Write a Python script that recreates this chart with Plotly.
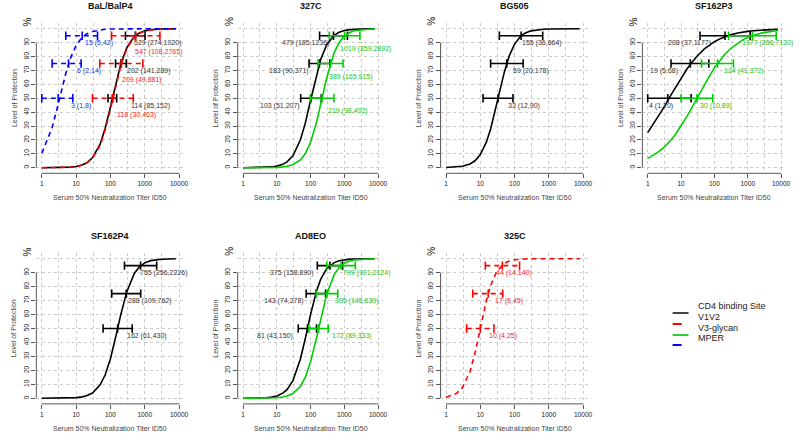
import math
import plotly.graph_objects as go
from plotly.subplots import make_subplots

# titer grid the fitted curves were read at
titer = [1, 2, 3, 5, 7, 10, 15, 20, 30, 50, 70, 100, 150, 200, 300, 500, 700, 1000, 1500, 2000, 3000, 5000, 8000]
levels = [50, 75, 95]

# BaL/BalP4
bal_cd4 = [0.01, 0.04, 0.09, 0.25, 0.47, 0.93, 2.0, 3.4, 7.2, 17.0, 28.2, 43.7, 62.8, 74.6, 86.5, 94.5, 97.0, 98.5, 99.3, 99.6, 99.8, 99.9, 100]
bal_v1v2 = [0.01, 0.04, 0.08, 0.23, 0.44, 0.87, 1.9, 3.2, 6.8, 16.1, 26.9, 42.2, 61.2, 73.3, 85.7, 94.1, 96.8, 98.4, 99.2, 99.6, 99.8, 99.9, 100]
bal_mper = [10.4, 28.9, 45.6, 67.8, 79.4, 88.0, 93.8, 96.2, 98.1, 99.2, 99.6, 99.8, 99.9, 99.9, 100, 100, 100, 100, 100, 100, 100, 100, 100]
bal_cd4_est, bal_cd4_lo, bal_cd4_hi = [114, 202, 529], [85, 141, 274], [152, 289, 1020]
bal_v1v2_est, bal_v1v2_lo, bal_v1v2_hi = [118, 209, 547], [30, 49, 108], [463, 881, 2765]
bal_mper_est, bal_mper_lo, bal_mper_hi = [3, 6, 15], [1, 2, 5], [8, 14, 42]

# 327C
c327_cd4 = [0.01, 0.05, 0.12, 0.31, 0.59, 1.15, 2.45, 4.2, 8.6, 20.1, 32.3, 48.6, 67.2, 78.0, 88.5, 95.3, 97.5, 98.7, 99.4, 99.7, 99.8, 99.9, 100]
c327_v3 = [0, 0.01, 0.03, 0.07, 0.14, 0.27, 0.6, 1.03, 2.2, 5.6, 10.2, 18.3, 32.7, 45.7, 64.6, 82.9, 90.2, 94.8, 97.5, 98.6, 99.3, 99.7, 99.9]
c327_cd4_est, c327_cd4_lo, c327_cd4_hi = [103, 183, 479], [51, 90, 185], [207, 371, 1236]
c327_v3_est, c327_v3_lo, c327_v3_hi = [219, 389, 1019], [98, 165, 359], [492, 915, 2892]

# BG505
bg505_cd4 = [0.13, 0.5, 1.06, 2.75, 5.0, 9.5, 18.4, 27.9, 45.4, 68.6, 80.5, 89.0, 94.6, 96.8, 98.5, 99.4, 99.7, 99.8, 99.9, 99.9, 100, 100, 100]
bg505_cd4_est, bg505_cd4_lo, bg505_cd4_hi = [33, 59, 155], [12, 20, 36], [90, 178, 664]

# SF162P3
sf3_cd4 = [25.3, 36.0, 43.1, 52.4, 58.4, 64.6, 71.0, 75.1, 80.2, 85.5, 88.3, 90.7, 92.9, 94.2, 95.6, 96.9, 97.6, 98.1, 98.6, 98.9, 99.2, 99.4, 99.6]
sf3_v3 = [6.7, 11.0, 14.4, 20.0, 24.5, 30.0, 36.9, 42.2, 50.0, 59.8, 65.8, 71.8, 77.6, 81.3, 85.6, 89.8, 92.0, 93.8, 95.4, 96.3, 97.2, 98.1, 98.7]
sf3_cd4_est, sf3_cd4_lo, sf3_cd4_hi = [4, 19, 208], [1, 5, 37], [20, 68, 1177]
sf3_v3_est, sf3_v3_lo, sf3_v3_hi = [30, 124, 1377], [10, 41, 266], [89, 372, 7130]

# SF162P4
sf4_cd4 = [0, 0.02, 0.05, 0.13, 0.25, 0.49, 1.05, 1.8, 3.8, 9.6, 16.7, 28.4, 46.3, 59.9, 76.4, 89.6, 94.2, 97.0, 98.6, 99.2, 99.6, 99.8, 99.9]
sf4_cd4_est, sf4_cd4_lo, sf4_cd4_hi = [162, 288, 755], [61, 109, 256], [430, 762, 2226]

# AD8EO
ad8_cd4 = [0.02, 0.08, 0.17, 0.45, 0.86, 1.7, 3.7, 6.2, 12.7, 28.2, 43.0, 60.1, 76.8, 85.3, 92.7, 97.2, 98.5, 99.2, 99.7, 99.8, 99.9, 100, 100]
ad8_v3 = [0, 0.02, 0.04, 0.11, 0.21, 0.42, 0.91, 1.6, 3.4, 8.5, 15.1, 26.1, 43.4, 57.1, 74.4, 88.6, 93.7, 96.7, 98.5, 99.1, 99.6, 99.8, 99.9]
ad8_cd4_est, ad8_cd4_lo, ad8_cd4_hi = [81, 143, 375], [43, 74, 158], [150, 278, 890]
ad8_v3_est, ad8_v3_lo, ad8_v3_hi = [172, 305, 799], [89, 145, 301], [333, 639, 2124]

# 325C
c325_v1v2 = [0.84, 3.4, 7.6, 19.2, 32.3, 50.0, 69.8, 80.8, 90.7, 96.6, 98.3, 99.2, 99.7, 99.8, 99.9, 100, 100, 100, 100, 100, 100, 100, 100]
c325_v1v2_est, c325_v1v2_lo, c325_v1v2_hi = [10, 17, 44], [4, 6, 14], [25, 45, 140]

styles = {
    'CD4 binding Site': dict(color='#000000', text='#333333', dash='solid', legend='#444444'),
    'V1V2': dict(color='#FF0000', text='#F02828', dash='5px,4px', legend='#FF0000'),
    'V3-glycan': dict(color='#00CD00', text='#22C022', dash='solid', legend='#33CC33'),
    'MPER': dict(color='#0000FF', text='#2828F0', dash='5px,4px', legend='#0000FF'),
}

# label placement: side of the estimate, drop below the bar (level units), pixel nudges
# (title, [(series, curve, est, lo, hi, side, drop, nudges)])
panels = [
    ('BaL/BalP4', [('CD4 binding Site', bal_cd4, bal_cd4_est, bal_cd4_lo, bal_cd4_hi, 'right', 5.5, [17, 4, -3]),
                   ('V1V2', bal_v1v2, bal_v1v2_est, bal_v1v2_lo, bal_v1v2_hi, 'right', 12, [2, -1, -3]),
                   ('MPER', bal_mper, bal_mper_est, bal_mper_lo, bal_mper_hi, 'right', 5.5, [11, 6, 1])]),
    ('327C', [('CD4 binding Site', c327_cd4, c327_cd4_est, c327_cd4_lo, c327_cd4_hi, 'left', 5.5, [-9, -8, -3]),
              ('V3-glycan', c327_v3, c327_v3_est, c327_v3_lo, c327_v3_hi, 'right', 9.5, [4, -3, -7])]),
    ('BG505', [('CD4 binding Site', bg505_cd4, bg505_cd4_est, bg505_cd4_lo, bg505_cd4_hi, 'right', 5.5, [8, 4, -1])]),
    ('SF162P3', [('CD4 binding Site', sf3_cd4, sf3_cd4_est, sf3_cd4_lo, sf3_cd4_hi, 'left', 5.5, [7, -10, -12]),
                 ('V3-glycan', sf3_v3, sf3_v3_est, sf3_v3_lo, sf3_v3_hi, 'right', 5.5, [1, 4, -12])]),
    ('SF162P4', [('CD4 binding Site', sf4_cd4, sf4_cd4_est, sf4_cd4_lo, sf4_cd4_hi, 'right', 5.5, [7, 0, -3])]),
    ('AD8EO', [('CD4 binding Site', ad8_cd4, ad8_cd4_est, ad8_cd4_lo, ad8_cd4_hi, 'left', 5.5, [-13, -10, -14]),
               ('V3-glycan', ad8_v3, ad8_v3_est, ad8_v3_lo, ad8_v3_hi, 'right', 5.5, [11, 6, 0])]),
    ('325C', [('V1V2', c325_v1v2, c325_v1v2_est, c325_v1v2_lo, c325_v1v2_hi, 'right', 5.5, [7, 5, -8])]),
]

W, H = 800, 440
col_px = [(36.5, 185.5), (238.9, 385.4), (442.8, 591.5), (645.6, 790.4)]
row_px = [(23.2, 173.3), (253.1, 403.9)]
FONT = 'Liberation Sans, Arial, sans-serif'
GRID = '#cccccc'
AXIS = '#555555'

fig = make_subplots(rows=2, cols=4, specs=[[{}, {}, {}, {}], [{}, {}, {}, None]])

annotations = []
shapes = []
for i, (title, series) in enumerate(panels):
    row, col = i // 4 + 1, i % 4 + 1
    s = '' if i == 0 else str(i + 1)
    xa, ya = f'x{s}', f'y{s}'

    for name, curve, est, lo, hi, side, drop, nudges in series:
        st = styles[name]
        fig.add_trace(go.Scatter(x=titer, y=curve, mode='lines', name=name, showlegend=False,
                                 line=dict(color=st['color'], width=1.6, dash=st['dash'])),
                      row=row, col=col)
        # horizontal interval bars
        bx, by = [], []
        for a, b, lv in zip(lo, hi, levels):
            bx += [a, b, None]
            by += [lv, lv, None]
        fig.add_trace(go.Scatter(x=bx, y=by, mode='lines', showlegend=False, hoverinfo='skip',
                                 line=dict(color=st['color'], width=1.6, dash=st['dash'])),
                      row=row, col=col)
        fig.add_trace(go.Scatter(x=lo + est + hi, y=levels * 3, mode='markers', showlegend=False,
                                 marker=dict(symbol='line-ns', size=6,
                                             line=dict(color=st['color'], width=1.6))),
                      row=row, col=col)
        for e, a, b, lv, dx in zip(est, lo, hi, levels, nudges):
            annotations.append(dict(
                x=math.log10(e), y=lv - drop, xref=xa, yref=ya, showarrow=False,
                text=f'{e} ({a},{b})', xanchor='left' if side == 'right' else 'right',
                xshift=dx, font=dict(size=7, color=st['text'], family=FONT)))

    fig.update_xaxes(type='log', range=[-0.16, 4.16], tickvals=[1, 10, 100, 1000, 10000],
                     ticktext=['1', '10', '100', '1000', '10000'], ticks='outside', ticklen=4,
                     tickcolor=AXIS, showgrid=True, gridcolor=GRID, griddash='dot',
                     gridwidth=1, zeroline=False, showline=False,
                     minor=dict(tickvals=[3.162, 31.62, 316.2, 3162], showgrid=True,
                                gridcolor=GRID, griddash='dot', ticks=''),
                     tickfont=dict(size=6.6, color='#222222', family=FONT),
                     domain=[col_px[col - 1][0] / W, col_px[col - 1][1] / W],
                     row=row, col=col)
    fig.update_yaxes(range=[-4, 104], tickvals=list(range(0, 100, 10)), ticks='outside',
                     ticklen=4, tickcolor=AXIS, tickangle=-90, showgrid=True,
                     gridcolor=GRID, griddash='dot', zeroline=False, showline=False,
                     minor=dict(tickvals=[100], showgrid=True, gridcolor=GRID,
                                griddash='dot', ticks=''),
                     tickfont=dict(size=6.6, color='#222222', family=FONT),
                     domain=[1 - row_px[row - 1][1] / H, 1 - row_px[row - 1][0] / H],
                     row=row, col=col)

    # R style axis lines spanning first to last tick
    shapes.append(dict(type='line', xref=xa, yref=f'{ya} domain', x0=1, x1=10000, y0=0, y1=0,
                       line=dict(color=AXIS, width=1)))
    shapes.append(dict(type='line', xref=f'{xa} domain', yref=ya, x0=0, x1=0, y0=0, y1=90,
                       line=dict(color=AXIS, width=1)))

    annotations += [
        dict(text=f'<b>{title}</b>', x=0.5, y=1, xref=f'{xa} domain', yref=f'{ya} domain',
             yanchor='middle', yshift=17, showarrow=False,
             font=dict(size=9, color='#111111', family=FONT)),
        dict(text='%', x=0, y=1, xref=f'{xa} domain', yref=f'{ya} domain', textangle=-90,
             xshift=-16, yshift=8, showarrow=False,
             font=dict(size=10, color='#111111', family=FONT)),
        dict(text='Level of Protection', x=0, y=0.5, xref=f'{xa} domain', yref=f'{ya} domain',
             textangle=-90, xshift=-28, showarrow=False,
             font=dict(size=7, color='#444444', family=FONT)),
        dict(text='Serum 50% Neutralization Titer ID50', x=0.5, y=0, xref=f'{xa} domain',
             yref=f'{ya} domain', yshift=-30, showarrow=False,
             font=dict(size=7, color='#444444', family=FONT)),
    ]

# legend in the empty eighth cell
legend_y = [313, 324, 335, 345]
for (name, st), py in zip(styles.items(), legend_y):
    shapes.append(dict(type='line', xref='paper', yref='paper', x0=676 / W, x1=692 / W,
                       y0=1 - py / H, y1=1 - py / H,
                       line=dict(color=st['legend'], width=2,
                                 dash='dash' if st['dash'] != 'solid' else 'solid')))
    annotations.append(dict(text=name, x=699 / W, y=1 - py / H, xref='paper', yref='paper',
                            xanchor='left', showarrow=False,
                            font=dict(size=9, color='#222222', family=FONT)))

fig.update_layout(width=W, height=H, margin=dict(l=0, r=0, t=0, b=0),
                  paper_bgcolor='white', plot_bgcolor='white', showlegend=False,
                  annotations=annotations, shapes=shapes,
                  font=dict(family=FONT))

# page body has an 8px default margin; drop it so the figure sits at the window corner
fig.write_html("out.html", config={'displayModeBar': False},
               post_script="document.body.style.margin = '0';")
